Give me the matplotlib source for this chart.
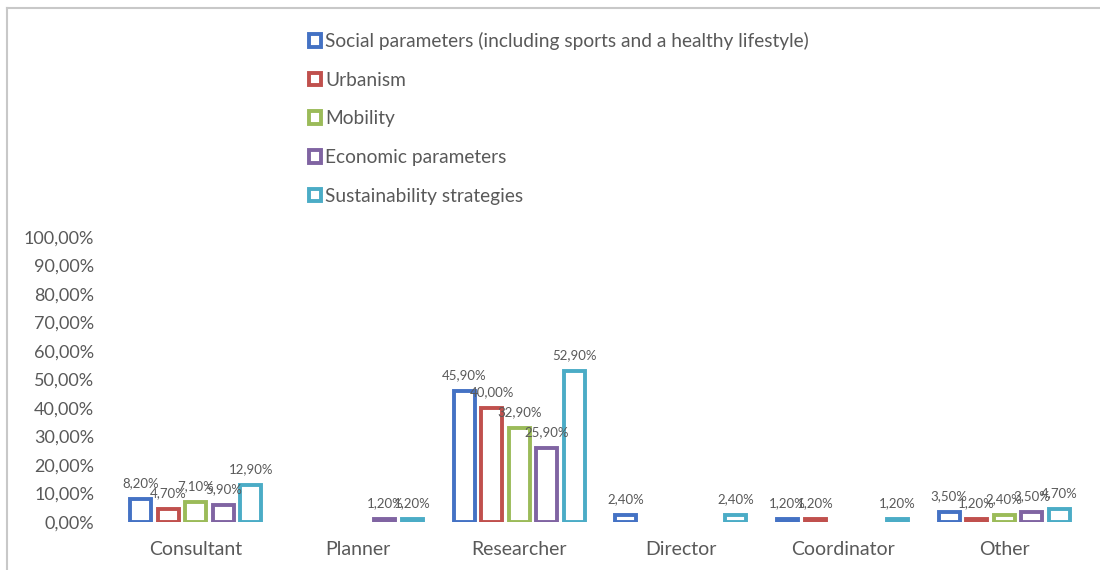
import numpy as np
import matplotlib
matplotlib.use("Agg")
import matplotlib.pyplot as plt
from matplotlib.patches import Patch
from matplotlib.lines import Line2D

plt.rcParams["font.family"] = ["Lato", "DejaVu Sans"]

# Données (en %)
categories = ["Consultant", "Planner", "Researcher", "Director", "Coordinator", "Other"]
series = [
    "Social parameters (including sports and a healthy lifestyle)",
    "Urbanism",
    "Mobility",
    "Economic parameters",
    "Sustainability strategies",
]
social = [8.2, 0, 45.9, 2.4, 1.2, 3.5]
urbanism = [4.7, 0, 40.0, 0, 1.2, 1.2]
mobility = [7.1, 0, 32.9, 0, 0, 2.4]
economic = [5.9, 1.2, 25.9, 0, 0, 3.5]
sustainability = [12.9, 1.2, 52.9, 2.4, 1.2, 4.7]
colors = ["#4472C4", "#C0504D", "#9BBB59", "#8064A2", "#4BACC6"]
yticks = [0, 10, 20, 30, 40, 50, 60, 70, 80, 90, 100]

gris = "#595959"

fig = plt.figure(figsize=(11, 5.7), dpi=100)
ax = fig.add_axes([115 / 1100, 1 - 522 / 570, 970 / 1100, 285 / 570])

x = np.arange(len(categories))
slot = 0.17
width = 0.13
donnees = [social, urbanism, mobility, economic, sustainability]

for i, (vals, col) in enumerate(zip(donnees, colors)):
    pos = x + (i - 2) * slot
    garde = [k for k, v in enumerate(vals) if v > 0]
    px = [pos[k] for k in garde]
    vy = [vals[k] for k in garde]
    ax.bar(px, vy, width=width, facecolor="white", edgecolor=col, linewidth=2.8)
    for xx, v in zip(px, vy):
        ax.annotate(f"{v:.2f}".replace(".", ",") + "%", (xx, v),
                    xytext=(0, 7), textcoords="offset points",
                    ha="center", va="bottom", fontsize=9.5, color=gris)

ax.set_xlim(-0.5, len(categories) - 0.5)
ax.set_ylim(0, 100)
ax.set_yticks(yticks)
ax.set_yticklabels([f"{t:.2f}".replace(".", ",") + "%" for t in yticks])
ax.set_xticks(x)
ax.set_xticklabels(categories)
ax.tick_params(axis="y", length=0, pad=15, labelsize=13, labelcolor=gris)
ax.tick_params(axis="x", length=0, pad=14, labelsize=14, labelcolor=gris)
for s in ax.spines.values():
    s.set_visible(False)

handles = [Patch(facecolor="white", edgecolor=c, linewidth=2.8) for c in colors]
fig.legend(handles, series, loc="upper left", bbox_to_anchor=(309 / 1100, 1 - 32 / 570),
           frameon=False, fontsize=13.8, labelcolor=gris, handlelength=0.65,
           handleheight=0.65, handletextpad=0.2, labelspacing=1.13, borderpad=0,
           borderaxespad=0)

# cadre gris en haut et à gauche
fig.add_artist(Line2D([7 / 1100, 1], [1 - 8 / 570, 1 - 8 / 570], color="#C8C8C8", lw=1.5))
fig.add_artist(Line2D([7 / 1100, 7 / 1100], [0, 1 - 8 / 570], color="#C8C8C8", lw=1.5))

fig.savefig("out.png", dpi=100)
